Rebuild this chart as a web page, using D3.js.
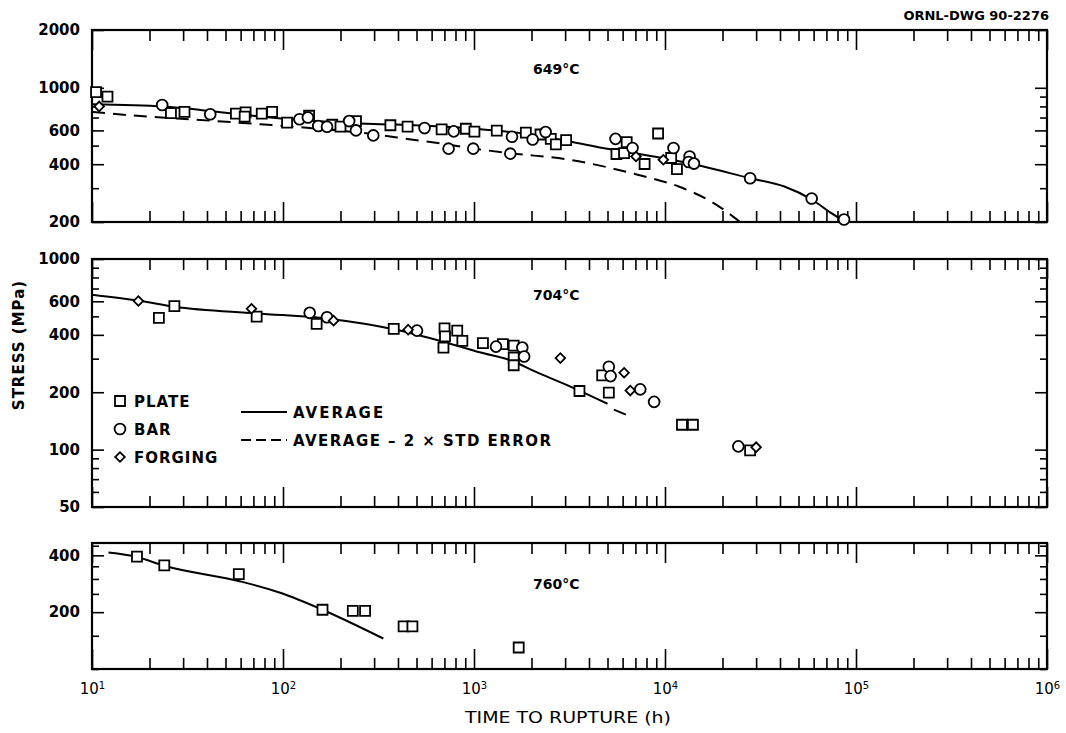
<!DOCTYPE html>
<html><head><meta charset="utf-8">
<script src="https://cdn.jsdelivr.net/npm/d3@7"></script>
<style>
body{margin:0;background:#fff;}
svg{display:block;font-family:"DejaVu Sans",sans-serif;}
</style></head><body>
<svg id="chart" width="1066" height="733"></svg>
<script>
// ---------------- DATA ----------------
const xDecadeExponents = [1, 2, 3, 4, 5, 6];

// 649 °C panel
const yLabels649 = [200, 400, 600, 1000, 2000];
const plate649 = [[10.5,950],[12.05,900],[25.9,738],[30.5,750],[56.7,734],[63.7,744],[63,708],[77.4,734],[87.7,750],[105,659],[137,715],[181,642],[200,627],[241,671],[365,638],[449,627],[677,607],[906,612],[1005,591],[1316,598],[1868,584],[2229,571],[2523,542],[2683,507],[3036,534],[5570,452],[6105,457],[6300,521],[7820,401],[9200,578],[10770,431],[11550,377]];
const bar649 = [[23.3,813],[41.6,728],[122,686],[135,700],[153,632],[170,627],[222,671],[241,600],[297,565],[551,617],[783,593],[736,482],[991,482],[1549,454],[1581,556],[2028,538],[2371,588],[5508,542],[6760,486],[11080,486],[13450,439],[13300,411],[14180,403],[27900,338],[58600,265],[86600,206]];
const forging649 = [[10.9,800],[7050,439],[9800,422]];
const average649 = [[10,822],[23.8,800],[59,728],[110,685],[222,655],[380,644],[1000,612],[2070,568],[3162,525],[5180,478],[7200,453],[10000,428],[14500,397],[27950,338],[42170,306],[58600,262],[75000,221],[88000,200]];
const averageMinus649 = [[10,750],[19.4,708],[28,692],[76,646],[205,596],[309,571],[468,538],[700,510],[1000,482],[1600,455],[3160,422],[5200,382],[7820,345],[11800,306],[19300,240],[24700,200]];

// 704 °C panel
const yLabels704 = [50, 100, 200, 400, 600, 1000];
const plate704 = [[22.4,491],[27,566],[72.8,499],[150,457],[380,430],[701,433],[705,393],[692,343],[817,421],[869,372],[1114,362],[1416,358],[1614,351],[1614,304],[1614,277],[3566,203],[4690,245],[5080,199],[12270,135],[14000,135],[27900,99]];
const bar704 = [[138,522],[170,495],[503,421],[1304,347],[1790,343],[1830,308],[5080,272],[5190,243],[7420,207],[8770,178],[24200,104]];
const forging704 = [[17.5,602],[68.4,548],[184,475],[452,426],[2832,302],[6110,253],[6580,204],[30000,103]];
const average704 = [[10,650],[17.5,605],[27,562],[73,518],[173,486],[380,428],[705,366],[1069,324],[1614,290],[2070,258],[3311,211],[5000,174]];
const averageMinus704 = [[5400,162],[6500,150]];

// 760 °C panel
const yLabels760 = [200, 400];
const plate760 = [[17.2,394],[23.9,354],[58.7,318],[161,206],[232,203],[269,203],[428,168],[476,168],[1714,130]];
const average760 = [[12.2,414],[17.2,392],[23.9,352],[60,291],[98.5,252],[161,206],[335,145]];

const panelTitles = ["649°C", "704°C", "760°C"];
const legendMaterials = ["PLATE", "BAR", "FORGING"];
const legendLines = ["AVERAGE", "AVERAGE \u2013 2 \u00d7 STD ERROR"];
const xAxisTitle = "TIME TO RUPTURE (h)";
const yAxisTitle = "STRESS (MPa)";
const drawingId = "ORNL-DWG 90-2276";

// ---------------- LAYOUT ----------------
const svg = d3.select("#chart");
const X0 = 92, X1 = 1047;
const x = d3.scaleLog().domain([10, 1e6]).range([X0, X1]);

const panels = [
  {top: 30, bottom: 222, domain: [200, 2000], labels: yLabels649, plate: plate649, bar: bar649, forging: forging649, avg: average649, avgMinus: averageMinus649, title: panelTitles[0], titleY: 74},
  {top: 259, bottom: 507, domain: [50, 1000], labels: yLabels704, plate: plate704, bar: bar704, forging: forging704, avg: average704, avgMinus: averageMinus704, title: panelTitles[1], titleY: 300},
  {top: 543, bottom: 669, domain: [100, 465], labels: yLabels760, plate: plate760, bar: [], forging: [], avg: average760, avgMinus: [], title: panelTitles[2], titleY: 589}
];

const isDecade = v => Math.abs(Math.log10(v) - Math.round(Math.log10(v))) < 1e-9;
const allX = x.ticks();
const xMinor = allX.filter(v => !isDecade(v));
const xMajor = allX.filter(v => isDecade(v));

const styleAxis = sel => {
  sel.select(".domain").remove();
  sel.selectAll("line").attr("stroke", "#000").attr("stroke-width", 1.6);
};

const squareSym = d3.symbol(d3.symbolSquare, 100)();
const circleSym = d3.symbol(d3.symbolCircle, 92)();
const diamondSym = d3.symbol(d3.symbolSquare, 46)();

panels.forEach((p, i) => {
  const y = d3.scaleLog().domain(p.domain).range([p.bottom, p.top]);
  const g = svg.append("g");

  const clipId = "clip" + i;
  svg.append("clipPath").attr("id", clipId).append("rect")
    .attr("x", X0).attr("y", p.top).attr("width", X1 - X0).attr("height", p.bottom - p.top);

  // x ticks, top and bottom, inward
  g.append("g").attr("transform", `translate(0,${p.bottom})`)
    .call(d3.axisBottom(x).tickValues(xMinor).tickSize(-11).tickFormat("")).call(styleAxis);
  g.append("g").attr("transform", `translate(0,${p.bottom})`)
    .call(d3.axisBottom(x).tickValues(xMajor).tickSize(-20).tickFormat("")).call(styleAxis);
  g.append("g").attr("transform", `translate(0,${p.top})`)
    .call(d3.axisTop(x).tickValues(xMinor).tickSize(-11).tickFormat("")).call(styleAxis);
  g.append("g").attr("transform", `translate(0,${p.top})`)
    .call(d3.axisTop(x).tickValues(xMajor).tickSize(-20).tickFormat("")).call(styleAxis);

  // y ticks
  const yAll = y.ticks().filter(v => v >= p.domain[0] && v <= Math.min(p.domain[1], 1000));
  const yMinor = yAll.filter(v => !p.labels.includes(v));
  const yMajor = p.labels;
  g.append("g").attr("transform", `translate(${X0},0)`)
    .call(d3.axisLeft(y).tickValues(yMinor).tickSize(-7).tickFormat("")).call(styleAxis);
  g.append("g").attr("transform", `translate(${X1},0)`)
    .call(d3.axisRight(y).tickValues(yMinor).tickSize(-7).tickFormat("")).call(styleAxis);
  g.append("g").attr("transform", `translate(${X1},0)`)
    .call(d3.axisRight(y).tickValues(yMajor).tickSize(-12).tickFormat("")).call(styleAxis);
  const yl = g.append("g").attr("transform", `translate(${X0},0)`)
    .call(d3.axisLeft(y).tickValues(yMajor).tickSize(-12).tickPadding(12).tickFormat(d3.format("d"))).call(styleAxis);
  yl.selectAll("text").attr("font-family", "DejaVu Sans").attr("font-size", 15)
    .attr("font-weight", "bold").attr("fill", "#000");

  // frame
  g.append("rect").attr("x", X0).attr("y", p.top).attr("width", X1 - X0).attr("height", p.bottom - p.top)
    .attr("fill", "none").attr("stroke", "#000").attr("stroke-width", 2.2);

  // curves
  const line = d3.line().x(d => x(d[0])).y(d => y(d[1])).curve(d3.curveMonotoneX);
  g.append("path").datum(p.avg).attr("d", line).attr("clip-path", `url(#${clipId})`)
    .attr("fill", "none").attr("stroke", "#000").attr("stroke-width", 2);
  if (p.avgMinus.length) {
    g.append("path").datum(p.avgMinus).attr("d", line).attr("clip-path", `url(#${clipId})`)
      .attr("fill", "none").attr("stroke", "#000").attr("stroke-width", 2)
      .attr("stroke-dasharray", "13,8");
  }

  // markers
  const mk = (data, sym, rot) => g.append("g").selectAll("path").data(data).join("path")
    .attr("d", sym)
    .attr("transform", d => `translate(${x(d[0])},${y(d[1])})` + (rot ? " rotate(45)" : ""))
    .attr("fill", "#fff").attr("stroke", "#000").attr("stroke-width", 1.8);
  mk(p.plate, squareSym, false);
  mk(p.bar, circleSym, false);
  mk(p.forging, diamondSym, true);

  // panel title
  g.append("text").attr("x", 533).attr("y", p.titleY).text(p.title)
    .attr("font-size", 14).attr("font-weight", "bold").attr("fill", "#000");
});

// x tick labels with superscripts
const bottomPanel = panels[2];
const xl = svg.append("g").attr("transform", `translate(0,${bottomPanel.bottom})`)
  .call(d3.axisBottom(x).tickValues(xDecadeExponents.map(e => Math.pow(10, e))).tickSize(0).tickPadding(14).tickFormat(""));
xl.select(".domain").remove();
xl.selectAll(".tick text").each(function(d, i) {
  const t = d3.select(this);
  t.attr("font-family", "DejaVu Sans").attr("font-size", 15).attr("fill", "#000");
  t.append("tspan").text("10");
  t.append("tspan").attr("font-size", 10).attr("dy", "-0.5em").text(xDecadeExponents[i]);
});

// axis titles
svg.append("text").attr("x", 568).attr("y", 723).attr("text-anchor", "middle")
  .attr("font-size", 16).attr("textLength", 206).attr("lengthAdjust", "spacingAndGlyphs")
  .attr("fill", "#000").text(xAxisTitle);
svg.append("text").attr("transform", "translate(24,345) rotate(-90)").attr("text-anchor", "middle")
  .attr("font-size", 15).attr("font-weight", "bold").attr("letter-spacing", 1)
  .attr("fill", "#000").text(yAxisTitle);

svg.append("text").attr("x", 1049).attr("y", 20).attr("text-anchor", "end")
  .attr("font-size", 13).attr("font-weight", "bold").attr("fill", "#000").text(drawingId);

// legend
const lg = svg.append("g");
const legSyms = [[squareSym, false], [circleSym, false], [diamondSym, true]];
legendMaterials.forEach((name, i) => {
  const ly = 401 + i * 28;
  lg.append("path").attr("d", legSyms[i][0])
    .attr("transform", `translate(120,${ly})` + (legSyms[i][1] ? " rotate(45)" : ""))
    .attr("fill", "#fff").attr("stroke", "#000").attr("stroke-width", 1.8);
  lg.append("text").attr("x", 134).attr("y", ly + 5.5).text(name)
    .attr("font-size", 15).attr("font-weight", "bold").attr("letter-spacing", 1).attr("fill", "#000");
});
[412, 440].forEach((ly, i) => {
  lg.append("line").attr("x1", 241).attr("x2", 287).attr("y1", ly).attr("y2", ly)
    .attr("stroke", "#000").attr("stroke-width", 2)
    .attr("stroke-dasharray", i ? "10,5" : null);
  const t = lg.append("text").attr("x", 293).attr("y", ly + 5.5).text(legendLines[i])
    .attr("font-size", 15).attr("font-weight", "bold").attr("fill", "#000");
  if (i === 0) t.attr("letter-spacing", 2);
  else t.attr("textLength", 258).attr("lengthAdjust", "spacing");
});
</script>
</body></html>
